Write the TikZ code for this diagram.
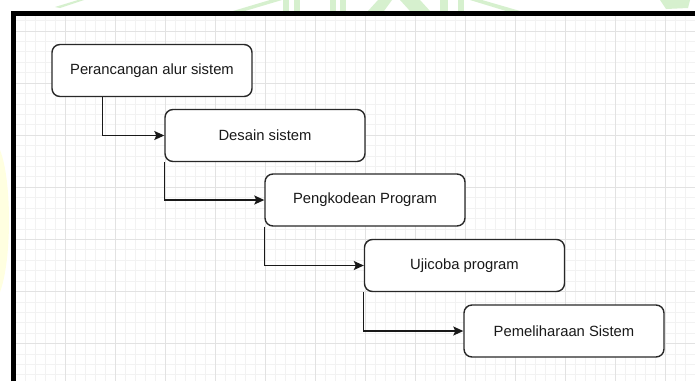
\documentclass[tikz,border=0pt]{standalone}
\usepackage{fontspec}
\setmainfont{Liberation Sans}
\usetikzlibrary{arrows.meta,calc}
\definecolor{gridminor}{RGB}{242,242,242}
\definecolor{gridmajor}{RGB}{226,226,226}
\definecolor{wmgreen}{RGB}{214,240,206}
\definecolor{wmyellow}{RGB}{255,255,224}
\definecolor{boxline}{RGB}{40,40,40}
\tikzset{
  stepbox/.style={draw=boxline, line width=1.4pt, rounded corners=8pt, fill=white,
    minimum width=200pt, minimum height=52pt, inner sep=0pt,
    font=\fontsize{14.8}{17}\selectfont, text=black!90},
  conn/.style={draw=black!90, line width=1.3pt, -{Stealth[length=10pt,width=9pt,inset=2pt]}},
}
\begin{document}
\begin{tikzpicture}[x=1pt,y=-1pt]
\useasboundingbox (0,0) rectangle (695,381);
\fill[white] (0,0) rectangle (695,381);
% watermark traces
\fill[wmyellow] (0,150) .. controls (12,180) and (12,260) .. (0,292) -- cycle;
\fill[wmgreen] (55,7) -- (78,0) -- (84,0) -- (60,8) -- cycle;
\fill[wmgreen] (233,11) -- (270,0) -- (282,0) -- (245,11) -- cycle;
\fill[wmgreen] (283,0) rectangle (289,11);
\fill[wmgreen] (294,0) rectangle (300,11);
\fill[wmgreen] (330,0) rectangle (336,11);
\fill[wmgreen] (340,0) rectangle (346,11);
\fill[wmgreen] (368,11) -- (378,0) -- (392,0) -- (384,11) -- cycle;
\fill[wmgreen] (400,0) -- (420,0) -- (430,11) -- (410,11) -- cycle;
\fill[wmgreen] (440,0) rectangle (448,11);
\fill[wmgreen] (458,0) rectangle (464,11);
\fill[wmgreen] (470,0) -- (482,0) -- (520,11) -- (506,11) -- cycle;
\fill[wmgreen] (660,0) -- (690,0) -- (688,8) -- (666,9) -- cycle;
% grid
\foreach \i in {0,...,68} {
  \draw[gridminor, line width=0.8pt] (15+\i*10,16) -- (15+\i*10,381);
}
\foreach \j in {-1,...,34} {
  \draw[gridminor, line width=0.8pt] (16,31+\j*10.42) -- (695,31+\j*10.42);
}
\foreach \i in {0,...,13} {
  \draw[gridmajor, line width=1pt] (15+\i*50,16) -- (15+\i*50,381);
}
\foreach \j in {0,...,6} {
  \draw[gridmajor, line width=1pt] (16,31+\j*52.1) -- (695,31+\j*52.1);
}
% frame
\draw[black, line width=5pt] (13.5,381) -- (13.5,13.5) -- (695,13.5);
% boxes
\node[stepbox] (b1) at (152,70.5) {Perancangan alur sistem};
\node[stepbox] (b2) at (265,135.5) {Desain sistem};
\node[stepbox] (b3) at (365,200) {Pengkodean Program};
\node[stepbox] (b4) at (464.5,265.5) {Ujicoba program};
\node[stepbox] (b5) at (564,331) {Pemeliharaan Sistem};
% connectors
\draw[conn] ([xshift=51pt]b1.south west) |- (b2.west);
\draw[conn] (b2.south west) |- (b3.west);
\draw[conn] (b3.south west) |- (b4.west);
\draw[conn] (b4.south west) |- (b5.west);
\end{tikzpicture}
\end{document}
